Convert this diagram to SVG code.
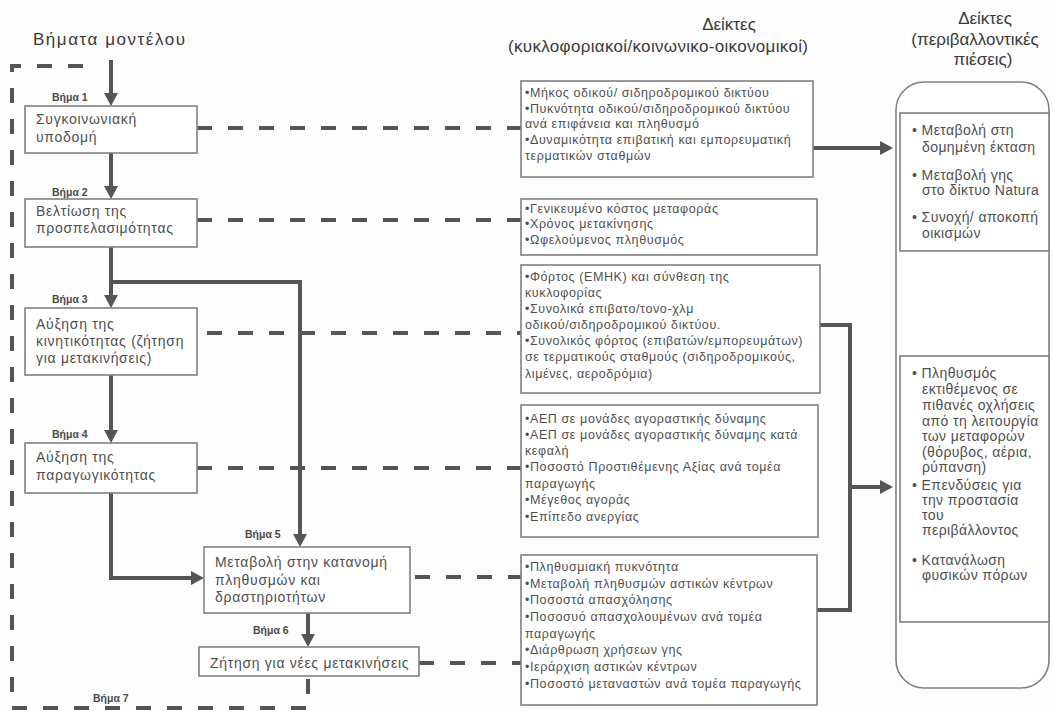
<svg xmlns="http://www.w3.org/2000/svg" width="1053" height="711" viewBox="0 0 1053 711">
<style>
.bg{fill:#fdfdfd}
.box{fill:#fff;stroke:#808080;stroke-width:1.6}
.panel{fill:#fff;stroke:#808080;stroke-width:1.6}
.hdr{font-family:"Liberation Sans",Arial,sans-serif;fill:#3a3a3a;font-size:17px}
.step{font-family:"Liberation Sans",Arial,sans-serif;fill:#4a4a4a;font-size:10.5px;font-weight:bold}
.lt{font-family:"Liberation Sans",Arial,sans-serif;fill:#4f4f4f;font-size:14px;letter-spacing:0.7px}
.mt{font-family:"Liberation Sans",Arial,sans-serif;fill:#4f4f4f;font-size:12.5px;letter-spacing:0.6px}
.rt{font-family:"Liberation Sans",Arial,sans-serif;fill:#4f4f4f;font-size:14px;letter-spacing:0.4px}
.solid{fill:none;stroke:#555;stroke-width:4}
.arr{fill:none;stroke:#555;stroke-width:4;marker-end:url(#ah)}
.dash{fill:none;stroke:#555;stroke-width:4;stroke-dasharray:15 16}
</style>
<defs>
<marker id="ah" viewBox="0 0 13 14" refX="5" refY="7" markerWidth="13" markerHeight="14" markerUnits="userSpaceOnUse" orient="auto">
<path d="M0,0 L13,7 L0,14 z" fill="#555"/>
</marker>
</defs>
<rect class="bg" x="0" y="0" width="1053" height="711"/>

<g id="headers">
<text class="hdr" x="33" y="45" textLength="152">Βήματα μοντέλου</text>
<text class="hdr" x="729" y="30" text-anchor="middle">Δείκτες</text>
<text class="hdr" x="508" y="52" font-size="16" textLength="300">(κυκλοφοριακοί/κοινωνικο-οικονομικοί)</text>
<text class="hdr" x="985" y="24" text-anchor="middle">Δείκτες</text>
<text class="hdr" x="975" y="45" text-anchor="middle">(περιβαλλοντικές</text>
<text class="hdr" x="983" y="65" text-anchor="middle">πιέσεις)</text>
</g>

<g id="connectors">
<path class="dash" d="M308,679 V708 H12 V66 H95"/>
<path class="arr" d="M111,60 V98"/>
<path class="arr" d="M111,153 V191"/>
<path class="arr" d="M111,247 V300"/>
<path class="arr" d="M111,282 H300 V539"/>
<path class="arr" d="M111,375 V435"/>
<path class="arr" d="M111,493 V578 H196"/>
<path class="arr" d="M308,613 V639"/>
<path class="dash" d="M197,128 H521"/>
<path class="dash" d="M197,220 H521"/>
<path class="dash" d="M207,333 H521"/>
<path class="dash" d="M197,468 H521"/>
<path class="dash" d="M415,577 H521"/>
<path class="dash" d="M419,663 H521"/>
<path class="arr" d="M813,148 H885"/>
<path class="solid" d="M818,325 H850 V610 H817"/>
<path class="arr" d="M850,487 H885"/>
</g>

<g id="step1">
<text class="step" x="52" y="101">Βήμα 1</text>
<rect class="box" x="25" y="106" width="172" height="47"/>
<text class="lt" x="36" y="124">Συγκοινωνιακή</text>
<text class="lt" x="36" y="142">υποδομή</text>
</g>
<g id="step2">
<text class="step" x="52" y="196">Βήμα 2</text>
<rect class="box" x="25" y="199" width="172" height="48"/>
<text class="lt" x="36" y="216">Βελτίωση της</text>
<text class="lt" x="36" y="233">προσπελασιμότητας</text>
</g>
<g id="step3">
<text class="step" x="52" y="303">Βήμα 3</text>
<rect class="box" x="25" y="308" width="172" height="67"/>
<text class="lt" x="36" y="329">Αύξηση της</text>
<text class="lt" x="36" y="346">κινητικότητας (ζήτηση</text>
<text class="lt" x="36" y="363">για μετακινήσεις)</text>
</g>
<g id="step4">
<text class="step" x="52" y="438">Βήμα 4</text>
<rect class="box" x="25" y="443" width="172" height="50"/>
<text class="lt" x="36" y="462">Αύξηση της</text>
<text class="lt" x="36" y="480">παραγωγικότητας</text>
</g>
<g id="step5">
<text class="step" x="245" y="538">Βήμα 5</text>
<rect class="box" x="204" y="547" width="206" height="66"/>
<text class="lt" x="215" y="567">Μεταβολή στην κατανομή</text>
<text class="lt" x="215" y="585">πληθυσμών και</text>
<text class="lt" x="215" y="602">δραστηριοτήτων</text>
</g>
<g id="step6">
<text class="step" x="253" y="634">Βήμα 6</text>
<rect class="box" x="199" y="647" width="220" height="29"/>
<text class="lt" x="210" y="668">Ζήτηση για νέες μετακινήσεις</text>
</g>
<g id="step7">
<text class="step" x="93" y="702">Βήμα 7</text>
</g>

<g id="indA">
<rect class="box" x="521" y="81" width="292" height="96"/>
<text class="mt" x="525" y="97">•Μήκος οδικού/ σιδηροδρομικού δικτύου</text>
<text class="mt" x="525" y="112.5">•Πυκνότητα οδικού/σιδηροδρομικού δικτύου</text>
<text class="mt" x="525" y="128">ανά επιφάνεια  και πληθυσμό</text>
<text class="mt" x="525" y="144">•Δυναμικότητα επιβατική και εμπορευματική</text>
<text class="mt" x="525" y="160">τερματικών σταθμών</text>
</g>
<g id="indB">
<rect class="box" x="521" y="199" width="296" height="56"/>
<text class="mt" x="525" y="213">•Γενικευμένο κόστος μεταφοράς</text>
<text class="mt" x="525" y="228">•Χρόνος μετακίνησης</text>
<text class="mt" x="525" y="244">•Ωφελούμενος πληθυσμός</text>
</g>
<g id="indC">
<rect class="box" x="521" y="265" width="299" height="128"/>
<text class="mt" x="525" y="281">•Φόρτος (ΕΜΗΚ) και σύνθεση της</text>
<text class="mt" x="525" y="297">κυκλοφορίας</text>
<text class="mt" x="525" y="313">•Συνολικά επιβατο/τονο-χλμ</text>
<text class="mt" x="525" y="329">οδικού/σιδηροδρομικού δικτύου.</text>
<text class="mt" x="525" y="345">•Συνολικός φόρτος (επιβατών/εμπορευμάτων)</text>
<text class="mt" x="525" y="361">σε τερματικούς σταθμούς (σιδηροδρομικούς,</text>
<text class="mt" x="525" y="378">λιμένες, αεροδρόμια)</text>
</g>
<g id="indD">
<rect class="box" x="521" y="405" width="297" height="132"/>
<text class="mt" x="525" y="423">•ΑΕΠ σε μονάδες αγοραστικής δύναμης</text>
<text class="mt" x="525" y="439">•ΑΕΠ σε μονάδες αγοραστικής δύναμης κατά</text>
<text class="mt" x="525" y="455">κεφαλή</text>
<text class="mt" x="525" y="471">•Ποσοστό Προστιθέμενης Αξίας ανά τομέα</text>
<text class="mt" x="525" y="488">παραγωγής</text>
<text class="mt" x="525" y="504">•Μέγεθος αγοράς</text>
<text class="mt" x="525" y="521">•Επίπεδο ανεργίας</text>
</g>
<g id="indE">
<rect class="box" x="521" y="555" width="296" height="150"/>
<text class="mt" x="525" y="571">•Πληθυσμιακή πυκνότητα</text>
<text class="mt" x="525" y="588">•Μεταβολή πληθυσμών αστικών κέντρων</text>
<text class="mt" x="525" y="604">•Ποσοστά απασχόλησης</text>
<text class="mt" x="525" y="621">•Ποσοσυό απασχολουμένων ανά τομέα</text>
<text class="mt" x="525" y="638">παραγωγής</text>
<text class="mt" x="525" y="654">•Διάρθρωση χρήσεων γης</text>
<text class="mt" x="525" y="671">•Ιεράρχιση αστικών κέντρων</text>
<text class="mt" x="525" y="688">•Ποσοστό μεταναστών ανά τομέα παραγωγής</text>
</g>

<g id="envPanel">
<rect class="panel" x="896" y="82" width="153" height="606" rx="28" ry="28"/>
</g>
<g id="envR1">
<rect class="box" x="900" y="113" width="149" height="138"/>
<text class="rt" x="912" y="135">• Μεταβολή στη</text>
<text class="rt" x="922" y="152">δομημένη έκταση</text>
<text class="rt" x="912" y="180">• Μεταβολή γης</text>
<text class="rt" x="922" y="195">στο δίκτυο Natura</text>
<text class="rt" x="912" y="222">• Συνοχή/ αποκοπή</text>
<text class="rt" x="922" y="238">οικισμών</text>
</g>
<g id="envR2">
<rect class="box" x="900" y="356" width="149" height="266"/>
<text class="rt" x="912" y="378">• Πληθυσμός</text>
<text class="rt" x="922" y="394">εκτιθέμενος σε</text>
<text class="rt" x="922" y="410">πιθανές οχλήσεις</text>
<text class="rt" x="922" y="426">από τη λειτουργία</text>
<text class="rt" x="922" y="441">των μεταφορών</text>
<text class="rt" x="922" y="457">(θόρυβος, αέρια,</text>
<text class="rt" x="922" y="472">ρύπανση)</text>
<text class="rt" x="912" y="490">• Επενδύσεις για</text>
<text class="rt" x="922" y="505">την προστασία</text>
<text class="rt" x="922" y="520">του</text>
<text class="rt" x="922" y="535">περιβάλλοντος</text>
<text class="rt" x="912" y="565">• Κατανάλωση</text>
<text class="rt" x="922" y="580">φυσικών πόρων</text>
</g>
</svg>
